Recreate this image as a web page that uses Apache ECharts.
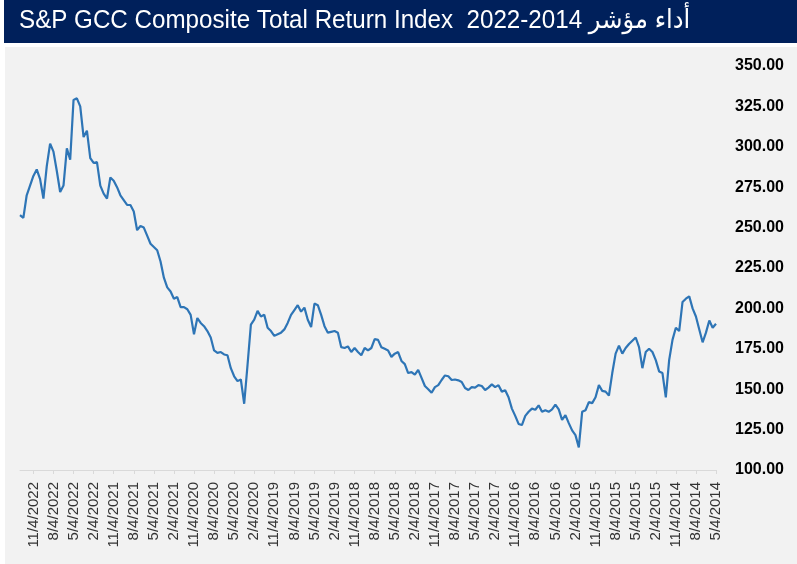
<!DOCTYPE html>
<html>
<head>
<meta charset="utf-8">
<title>S&amp;P GCC Composite Total Return Index</title>
<script src="https://cdn.jsdelivr.net/npm/echarts@6/dist/echarts.min.js"></script>
<style>
  html, body { margin: 0; padding: 0; background: #ffffff; }
  #main { width: 797px; height: 564px; }
</style>
</head>
<body>
<div id="main"></div>
<script>
// tick labels shown under the axis (newest on the left)
var tickLabels = [
    '11/4/2022','8/4/2022','5/4/2022','2/4/2022',
    '11/4/2021','8/4/2021','5/4/2021','2/4/2021',
    '11/4/2020','8/4/2020','5/4/2020','2/4/2020',
    '11/4/2019','8/4/2019','5/4/2019','2/4/2019',
    '11/4/2018','8/4/2018','5/4/2018','2/4/2018',
    '11/4/2017','8/4/2017','5/4/2017','2/4/2017',
    '11/4/2016','8/4/2016','5/4/2016','2/4/2016',
    '11/4/2015','8/4/2015','5/4/2015','2/4/2015',
    '11/4/2014','8/4/2014','5/4/2014'
];

// half-monthly dates, 1/4/2023 back to 5/4/2014
var categories = [];
(function () {
    var y = 2023, m = 1;
    while (true) {
        categories.push(m + '/4/' + y);
        if (y === 2014 && m === 5) break;
        m--;
        if (m === 0) { m = 12; y--; }
        categories.push(m + '/19/' + y);
    }
})();

// index values (same order as categories)
var indexValues = [
    257.7, 256, 270, 276, 282, 286, 280, 268, 288, 302,
    297, 285, 272, 276, 299, 292, 329, 330, 325, 306,
    310, 293, 290, 290.5, 276, 271, 268, 281, 279, 275,
    270, 267, 264, 264, 260, 248.4, 251, 250, 245, 240,
    238, 236, 229, 219, 213, 210.5, 206, 207, 200.8, 200.8,
    199.5, 196, 184, 194, 191, 189, 186, 182, 174, 172.5,
    173, 171.5, 171, 163, 158, 155, 156, 141, 165, 190,
    193, 198.5, 195, 196, 188, 186, 183, 184, 185, 187,
    191, 196, 199, 202, 198, 200.5, 193, 188.5, 203, 202,
    196, 189, 185, 185.5, 186, 185, 176, 175.5, 176.5, 173,
    175.5, 173, 171, 175.5, 174, 175.5, 181, 180.5, 176, 175,
    174, 170, 172, 173, 167.5, 165.5, 160, 160.6, 159, 162,
    157, 152, 150, 147.8, 151.3, 152.5, 155.7, 158.5, 158, 155.7,
    156, 155.5, 154.5, 150.7, 149.5, 151.3, 151, 152.5, 152, 149.5,
    151, 153, 151.3, 152.5, 148.5, 149.3, 145, 138, 133.5, 128.5,
    127.8, 133.5, 136, 138, 137.3, 140, 136, 137, 136, 137.5,
    140.5, 137.5, 131, 134, 129, 124.5, 121.6, 114, 136, 137,
    142, 141.4, 145, 152.5, 149, 148.5, 146, 160, 172, 177,
    172, 175.5, 178, 180, 182, 176, 163, 173, 175, 173,
    168, 161, 160, 145, 168, 180.5, 188, 186, 204, 206,
    207.5, 200, 195, 187, 179, 185, 192.5, 188, 190.5
];

var yMin = 100, yMax = 350, yStep = 25;

var titleText = 'S&P GCC Composite Total Return Index  2022-2014 أداء مؤشر';

var myChart = echarts.init(document.getElementById('main'));

var showTick = function (index, value) {
    return tickLabels.indexOf(value) !== -1;
};

option = {
    backgroundColor: '#ffffff',
    animation: false,
    graphic: [
        {
            type: 'rect',
            z: -10,
            shape: { x: 5, y: 47, width: 792, height: 517 },
            style: { fill: '#f2f2f2' }
        },
        {
            type: 'rect',
            z: -10,
            shape: { x: 4, y: 0, width: 793, height: 43 },
            style: { fill: '#00205b' }
        },
        {
            type: 'text',
            x: 19,
            y: 21,
            scaleX: 0.93,
            style: {
                text: titleText,
                fill: '#ffffff',
                font: '26px "Liberation Sans", Arial, "DejaVu Sans", sans-serif',
                verticalAlign: 'middle'
            }
        }
    ],
    grid: {
        left: 20,
        right: 81,
        top: 66,
        bottom: 94
    },
    xAxis: {
        type: 'category',
        boundaryGap: false,
        data: categories,
        axisLine: {
            lineStyle: { color: '#d9d9d9', width: 1 }
        },
        axisTick: {
            interval: showTick,
            length: 4,
            lineStyle: { color: '#d9d9d9' }
        },
        axisLabel: {
            interval: showTick,
            rotate: 90,
            margin: 12,
            fontSize: 15,
            fontFamily: '"Liberation Sans", Arial, sans-serif',
            color: '#333333'
        },
        splitLine: { show: false }
    },
    yAxis: {
        type: 'value',
        position: 'right',
        min: yMin,
        max: yMax,
        interval: yStep,
        axisLine: { show: false },
        axisTick: { show: false },
        splitLine: { show: false },
        axisLabel: {
            margin: 19,
            fontSize: 16,
            fontWeight: 'bold',
            fontFamily: '"Liberation Sans", Arial, sans-serif',
            color: '#000000',
            formatter: function (v) { return v.toFixed(2); }
        }
    },
    series: [
        {
            name: 'S&P GCC Composite TR',
            type: 'line',
            data: indexValues,
            showSymbol: false,
            symbol: 'none',
            lineStyle: { color: '#2e75b6', width: 2.2 },
            itemStyle: { color: '#2e75b6' }
        }
    ]
};
myChart.setOption(option);
window.onresize = myChart.resize;
</script>
</body>
</html>
